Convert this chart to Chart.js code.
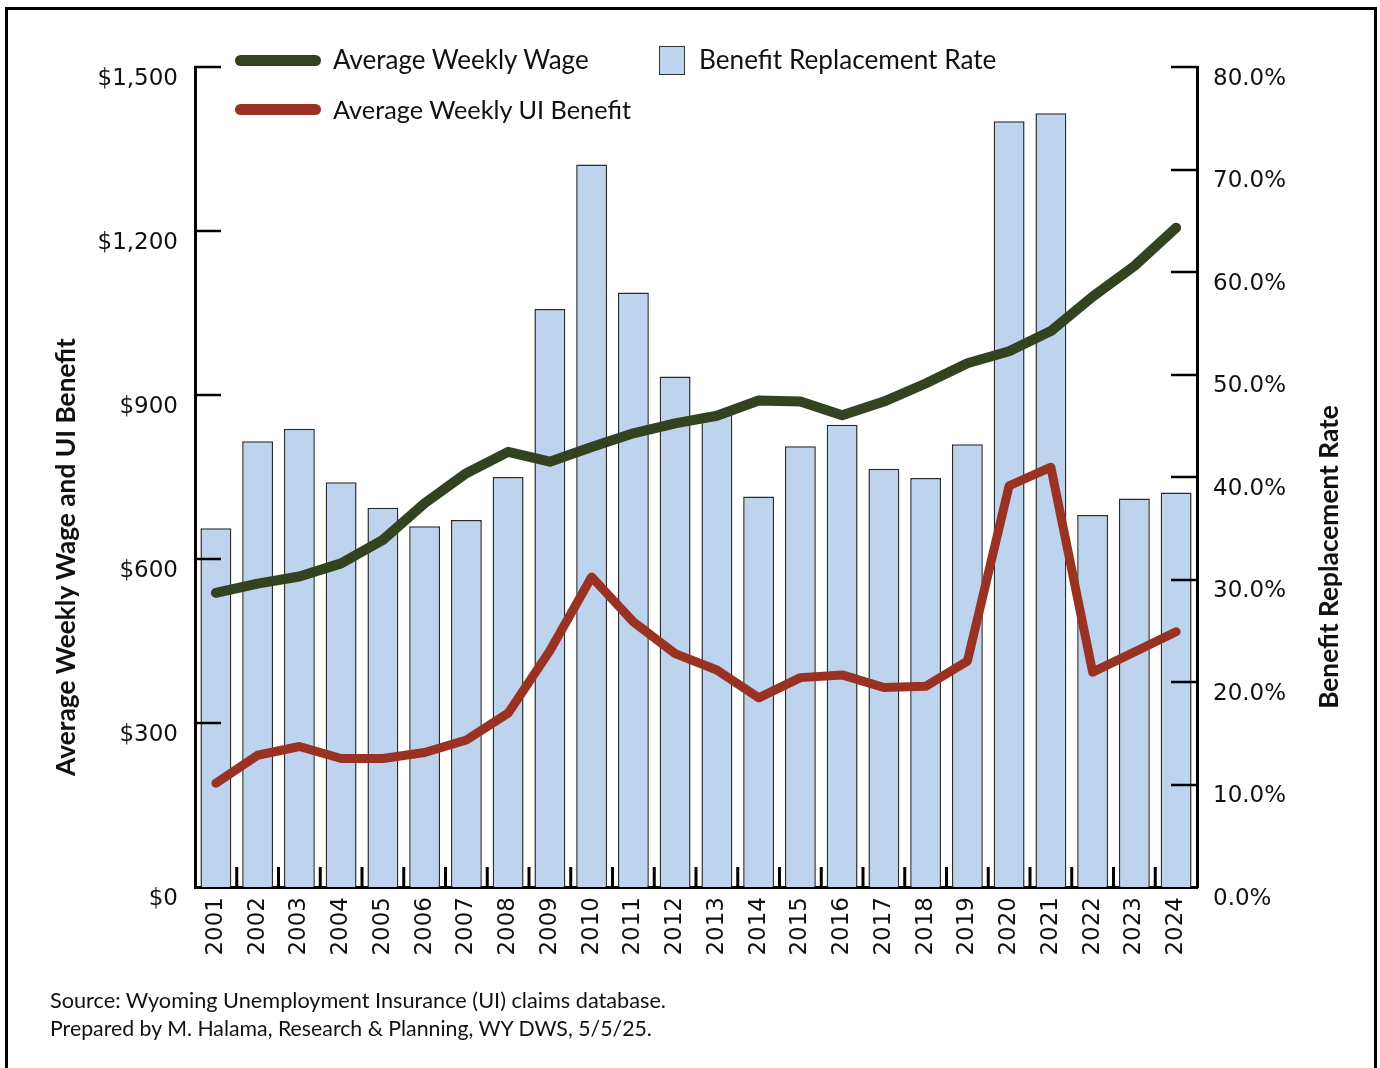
<!DOCTYPE html>
<html>
<head>
<meta charset="utf-8">
<script src="https://cdn.jsdelivr.net/npm/chart.js@4.4.1/dist/chart.umd.min.js"></script>
<style>
  html, body { margin:0; padding:0; background:#fff; }
  body { width:1380px; height:1068px; position:relative; overflow:hidden; }
  #frame { position:absolute; left:5px; top:7px; width:1372px; height:1100px; border:3px solid #000; box-sizing:border-box; }
  #wrap { position:absolute; left:0; top:0; width:1380px; height:1068px; }
  .t { position:absolute; font-family:Lato, "Open Sans", sans-serif; color:#111; white-space:nowrap; }
  .leg { font-size:26px; line-height:30px; }
  .mk { position:absolute; height:11px; border-radius:6px; }
  .box { position:absolute; background:#bdd3ee; border:1.5px solid #333; box-sizing:border-box; }
  .ytitle { font-weight:bold; font-size:26.3px; transform-origin:center center; }
  .note { font-size:21.5px; }
</style>
</head>
<body>
<div id="wrap"><canvas id="c" width="1380" height="1068"></canvas></div>
<div id="frame"></div>

<div class="mk" style="left:235px; top:55px; width:86px; background:#33431f;"></div>
<div class="t leg" style="left:333px; top:44px;">Average Weekly Wage</div>
<div class="box" style="left:659px; top:46px; width:26px; height:29px;"></div>
<div class="t leg" style="left:699px; top:44px; font-size:26.2px;">Benefit Replacement Rate</div>
<div class="mk" style="left:235px; top:104px; width:86px; background:#9a3223;"></div>
<div class="t leg" style="left:333px; top:94px; font-size:25.3px;">Average Weekly UI Benefit</div>

<div class="t ytitle" id="lt" style="left:65px; top:557px;">Average Weekly Wage and UI Benefit</div>
<div class="t ytitle" id="rt" style="left:1328px; top:557px;">Benefit Replacement Rate</div>

<div class="t note" style="left:50px; top:987px; font-size:21.7px;">Source: Wyoming Unemployment Insurance (UI) claims database.</div>
<div class="t note" style="left:50px; top:1015px; font-size:21.3px;">Prepared by M. Halama, Research &amp; Planning, WY DWS, 5/5/25.</div>

<script>
const years = ['2001','2002','2003','2004','2005','2006','2007','2008','2009','2010','2011','2012','2013','2014','2015','2016','2017','2018','2019','2020','2021','2022','2023','2024'];
const avgWeeklyWage = [538,555,568,592,635,702,757,796,778,805,830,848,862,890,888,863,888,921,958,980,1017,1080,1136,1206];
const avgWeeklyBenefit = [190,241,257,235,235,246,269,318,432,567,485,427,397,346,383,388,365,367,413,734,768,393,430,467];
const replacementRate = [35.0,43.5,44.7,39.5,37.0,35.2,35.8,40.0,56.4,70.5,58.0,49.8,46.2,38.1,43.0,45.1,40.8,39.9,43.2,74.7,75.5,36.3,37.9,38.5];
const leftTicks = [0,300,600,900,1200,1500];
const rightTicks = [0,10,20,30,40,50,60,70,80];

// center rotated titles on their anchor point
for (const id of ['lt','rt']) {
  const el = document.getElementById(id);
  const w = el.offsetWidth, h = el.offsetHeight;
  el.style.left = (parseFloat(el.style.left) - w/2) + 'px';
  el.style.top = (parseFloat(el.style.top) - h/2) + 'px';
  el.style.transform = 'rotate(-90deg)';
}

const tickFont = { family: '"DejaVu Sans", Verdana, sans-serif', size: 23 };

const innerTicks = {
  id: 'innerTicks',
  afterDatasetsDraw(chart) {
    const ctx = chart.ctx;
    const yl = chart.scales.y, yr = chart.scales.y2, x = chart.scales.x;
    const ca = chart.chartArea;
    ctx.save();
    ctx.strokeStyle = '#000';
    ctx.lineWidth = 2.5;
    ctx.beginPath();
    for (const v of leftTicks) {
      if (v === 0) continue;
      const py = Math.round(yl.getPixelForValue(v)) ;
      ctx.moveTo(ca.left, py); ctx.lineTo(ca.left + 26, py);
    }
    for (const v of rightTicks) {
      if (v === 0) continue;
      const py = Math.round(yr.getPixelForValue(v));
      ctx.moveTo(ca.right, py); ctx.lineTo(ca.right - 26, py);
    }
    ctx.stroke();
    ctx.lineWidth = 3;
    ctx.beginPath();
    for (let i = 1; i < years.length; i++) {
      const px = (x.getPixelForValue(i-1) + x.getPixelForValue(i)) / 2;
      ctx.moveTo(px, ca.bottom); ctx.lineTo(px, ca.bottom - 20);
    }
    ctx.stroke();
    ctx.restore();
  }
};

new Chart(document.getElementById('c'), {
  data: {
    labels: years,
    datasets: [
      { type:'line', label:'Average Weekly Wage', data: avgWeeklyWage, yAxisID:'y', order:1,
        borderColor:'#33431f', borderWidth:10, pointRadius:0, tension:0,
        borderJoinStyle:'round', borderCapStyle:'round' },
      { type:'line', label:'Average Weekly UI Benefit', data: avgWeeklyBenefit, yAxisID:'y', order:2,
        borderColor:'#9a3223', borderWidth:9, pointRadius:0, tension:0,
        borderJoinStyle:'round', borderCapStyle:'round' },
      { type:'bar', label:'Benefit Replacement Rate', data: replacementRate, yAxisID:'y2', order:3,
        backgroundColor:'#bdd3ee', borderColor:'#2b2b2b', borderWidth:1.5,
        barPercentage:0.74, categoryPercentage:1.0 }
    ]
  },
  options: {
    responsive:false, animation:false,
    layout: { padding: { top:67, left:0, right:0, bottom:0 } },
    plugins: { legend:{ display:false }, tooltip:{ enabled:false } },
    scales: {
      x: {
        grid:{ display:false, drawTicks:false },
        border:{ display:true, color:'#000', width:3 },
        ticks:{ font:tickFont, color:'#111', minRotation:90, maxRotation:90, padding:10, autoSkip:false },
        afterFit(s){ s.height = 1068 - 887; }
      },
      y: {
        position:'left', min:0, max:1500,
        afterBuildTicks(s){ s.ticks = leftTicks.map(v => ({ value:v })); },
        grid:{ display:false, drawTicks:false },
        border:{ display:true, color:'#000', width:3 },
        ticks:{ font:tickFont, color:'#111', padding:17, labelOffset:12,
          callback:(v) => '$' + Number(v).toLocaleString('en-US') },
        afterFit(s){ s.width = 195; }
      },
      y2: {
        position:'right', min:0, max:80,
        afterBuildTicks(s){ s.ticks = rightTicks.map(v => ({ value:v })); },
        grid:{ display:false, drawTicks:false },
        border:{ display:true, color:'#000', width:3 },
        ticks:{ font:tickFont, color:'#111', padding:16, labelOffset:12,
          callback:(v) => Number(v).toFixed(1) + '%' },
        afterFit(s){ s.width = 1380 - 1197; }
      }
    }
  },
  plugins:[innerTicks]
});
</script>
</body>
</html>
